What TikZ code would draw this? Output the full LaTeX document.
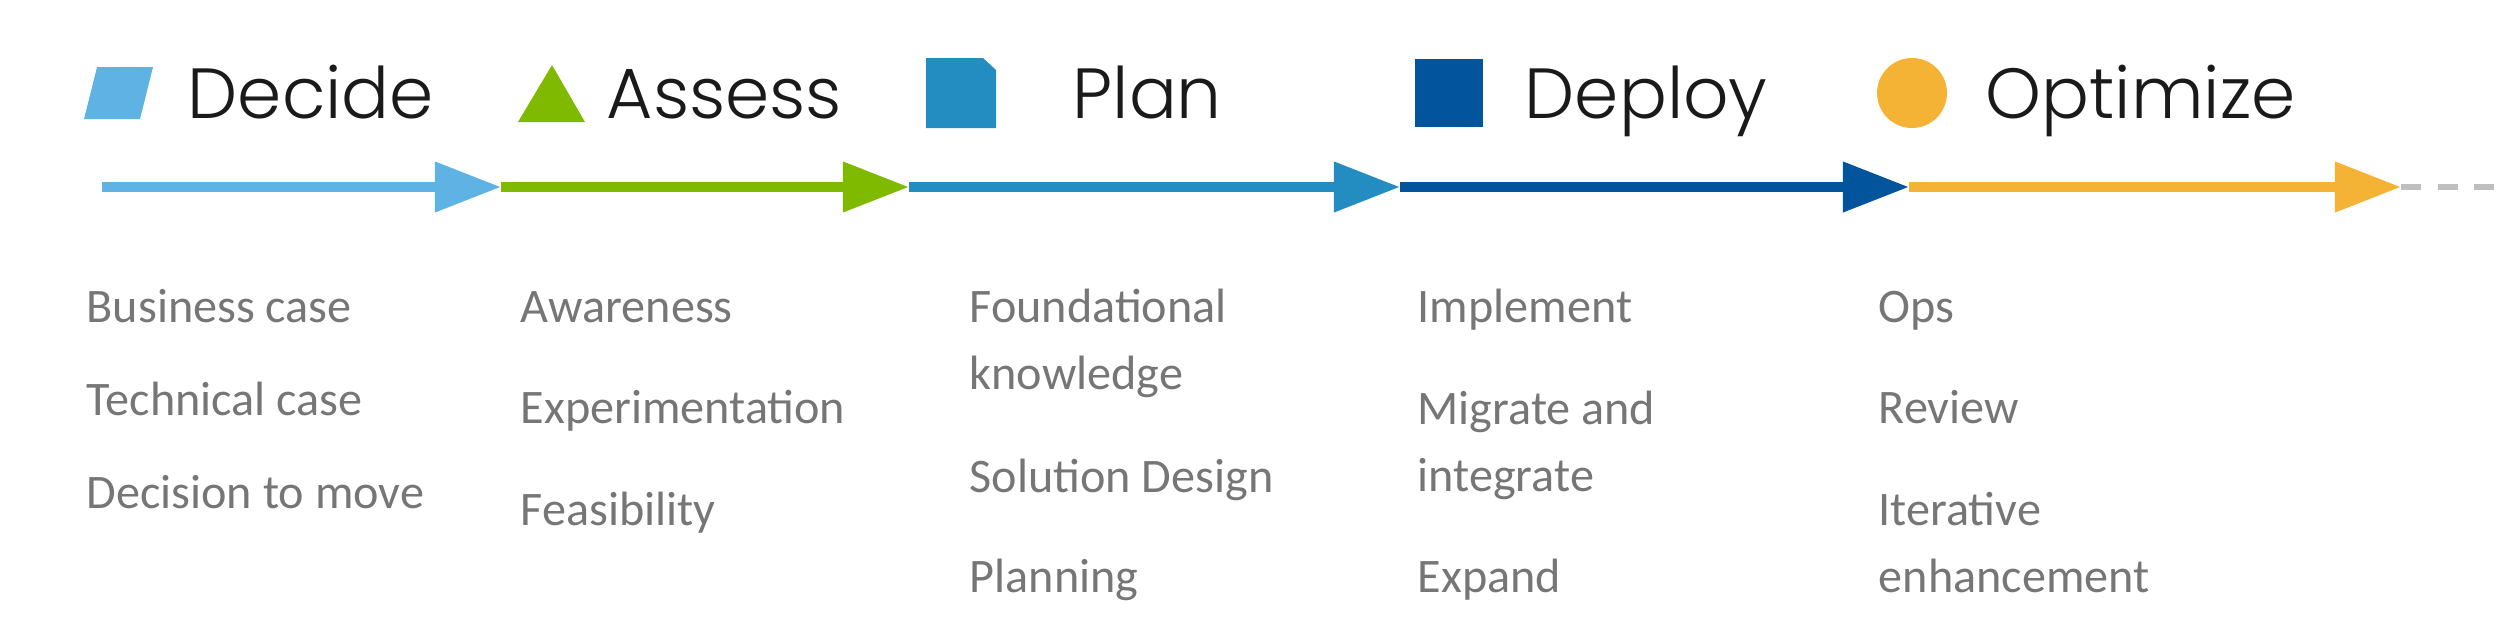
\documentclass[tikz,border=0pt]{standalone}
\usepackage{fontspec}
\setmainfont{Carlito}
\newfontfamily\headfont{Poppins Light}
\usepackage{xcolor}
\usetikzlibrary{arrows.meta, positioning}
\definecolor{DecideBlue}{HTML}{5EB3E4}
\definecolor{AssessGreen}{HTML}{7FBA00}
\definecolor{PlanBlue}{HTML}{238DC1}
\definecolor{DeployBlue}{HTML}{02549C}
\definecolor{OptimizeGold}{HTML}{F5B335}
\definecolor{ItemGray}{HTML}{767676}
\definecolor{DashGray}{HTML}{BFBFBF}
\definecolor{HeadBlack}{HTML}{1A1A1A}

\begin{document}
\begin{tikzpicture}[
  x=0.01cm, y=-0.01cm,
  phase/.style={anchor=base west, inner sep=0pt, font=\headfont\fontsize{20.2}{24}\selectfont, text=HeadBlack},
  item/.style={anchor=base west, inner sep=0pt, align=left, font=\fontsize{13.7}{19}\selectfont, text=ItemGray},
  seg/.style={line width=2.85pt, -{Triangle[length=18.8pt, width=13.7pt]}}
]
\useasboundingbox (0,0) rectangle (2500,639);

\coordinate (c0) at (102,187);
\coordinate (c1) at (501,187);
\coordinate (c2) at (909,187);
\coordinate (c3) at (1400,187);
\coordinate (c4) at (1909,187);
\coordinate (c5) at (2401,187);
\coordinate (cend) at (2500,187);

\draw[DashGray, line width=1.9pt, dash pattern=on 0.2cm off 0.165cm] (c5) -- (cend);
\draw[seg, DecideBlue] (c0) -- (c1);
\draw[seg, AssessGreen] (c1) -- (c2);
\draw[seg, PlanBlue] (c2) -- (c3);
\draw[seg, DeployBlue] (c3) -- (c4);
\draw[seg, OptimizeGold] (c4) -- (c5);

\fill[DecideBlue] (97,67) -- (153,67) -- (140,119) -- (84,119) -- cycle;
\fill[AssessGreen] (552,65) -- (585,122) -- (518,122) -- cycle;
\fill[PlanBlue] (926,58) -- (983,58) -- (996,70) -- (996,128) -- (926,128) -- cycle;
\fill[DeployBlue] (1415,59) rectangle (1483,127);
\fill[OptimizeGold] (1912,93) circle[x radius=35, y radius=35];

\node[phase] (decide) at (187,118) {Decide};
\node[phase] (assess) at (606,118) {Assess};
\node[phase] (plan) at (1072,118) {Plan};
\node[phase] (deploy) at (1524,118) {Deploy};
\node[phase] (optimize) at (1985,118) {Optimize};

\node[item] (business) at (86,322) {Business case};
\node[item] (technical) at (86,415) {Technical case};
\node[item] (decision) at (86,508) {Decision to move};

\node[item] (awareness) at (520,322) {Awareness};
\node[item] (experiment) at (520,423) {Experimentation};
\node[item] (feasibility) at (520,525) {Feasibility};

\node[item] (foundation) at (969,389) {Foundational\\knowledge};
\node[item] (solution) at (969,492) {Solution Design};
\node[item] (planning) at (969,592) {Planning};

\node[item] (implement) at (1417,322) {Implement};
\node[item] (migrate) at (1417,491) {Migrate and\\integrate};
\node[item] (expand) at (1417,592) {Expand};

\node[item] (ops) at (1878,322) {Ops};
\node[item] (review) at (1878,423) {Review};
\node[item] (iterative) at (1878,592) {Iterative\\enhancement};

\end{tikzpicture}
\end{document}
